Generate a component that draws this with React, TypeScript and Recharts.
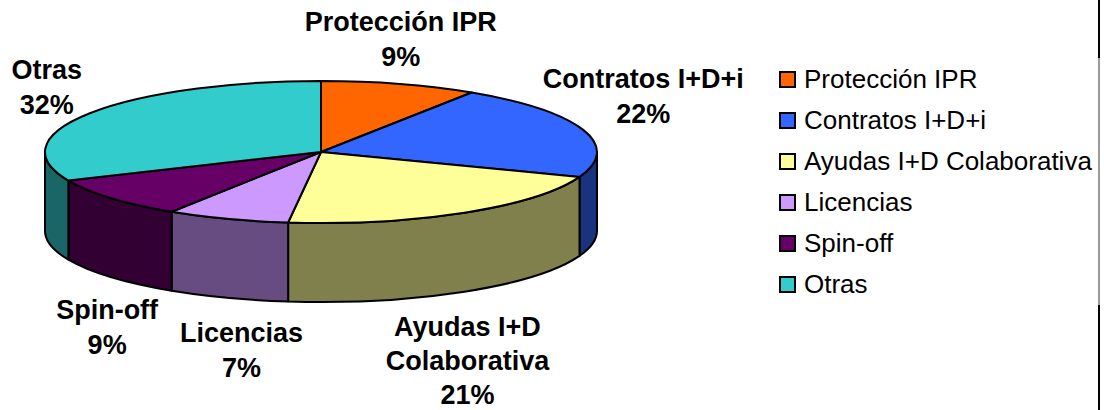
import { Legend, Pie, PieChart } from "recharts";

const categories = ["Protección IPR", "Contratos I+D+i", "Ayudas I+D Colaborativa", "Licencias", "Spin-off", "Otras"];
const shares = [9.2, 21.5, 21.2, 7.2, 9.3, 31.6];
const topColors = ["#FF6600", "#3366FF", "#FFFF99", "#CC99FF", "#660066", "#33CCCC"];
const wallColors = ["#803300", "#1A337F", "#80804C", "#664C80", "#330033", "#1A6666"];
const labelLines = [["Protección IPR"], ["Contratos I+D+i"], ["Ayudas I+D", "Colaborativa"], ["Licencias"], ["Spin-off"], ["Otras"]];

// first baseline of each label, relative to the rim point of its slice
const labelOffsets = [
  [1, -53],
  [60, -42],
  [3, 123],
  [14, 123],
  [-4, 121],
  [-43, -34],
];

const FONT = '"Liberation Sans", Arial, sans-serif';
const RX = 276;
const RY = 71;
const DEPTH = 79;
const LINE_HEIGHT = 34;

const chartData = categories.map((name, i) => ({ name, value: shares[i], fill: topColors[i] }));

// recharts angles run counter-clockwise from 3 o'clock, squashed here onto the tilted disc
const rimPoint = (cx: number, cy: number, angle: number) => {
  const rad = (angle * Math.PI) / 180;
  return { x: cx + RX * Math.cos(rad), y: cy - RY * Math.sin(rad) };
};

const arcTo = (to: { x: number; y: number }, clockwise: boolean, large: boolean) =>
  `A ${RX} ${RY} 0 ${large ? 1 : 0} ${clockwise ? 1 : 0} ${to.x} ${to.y}`;

function TiltedSlice(props: any) {
  const { cx, cy, startAngle, endAngle, index } = props;
  const a = rimPoint(cx, cy, startAngle);
  const b = rimPoint(cx, cy, endAngle);
  const large = startAngle - endAngle > 180;

  // only the front half of the rim has a visible wall (0 to -180 going clockwise)
  const wallA = Math.min(startAngle, 0);
  const wallB = Math.max(endAngle, -180);
  const p = rimPoint(cx, cy, wallA);
  const q = rimPoint(cx, cy, wallB);

  return (
    <g>
      {wallA > wallB && (
        <path
          d={`M ${p.x} ${p.y} ${arcTo(q, true, false)} L ${q.x} ${q.y + DEPTH} ${arcTo({ x: p.x, y: p.y + DEPTH }, false, false)} Z`}
          fill={wallColors[index]}
          stroke="#000"
          strokeWidth={2}
          strokeLinejoin="round"
        />
      )}
      <path
        d={`M ${cx} ${cy} L ${a.x} ${a.y} ${arcTo(b, true, large)} Z`}
        fill={topColors[index]}
        stroke="#000"
        strokeWidth={2}
        strokeLinejoin="round"
      />
    </g>
  );
}

function SliceLabel(props: any) {
  const { cx, cy, midAngle, index } = props;
  const rim = rimPoint(cx, cy, midAngle);
  const x = rim.x + labelOffsets[index][0];
  const y = rim.y + labelOffsets[index][1];
  const lines = [...labelLines[index], `${Math.round(shares[index])}%`];
  return (
    <text x={x} y={y} textAnchor="middle" fontFamily={FONT} fontSize={27} fontWeight={700} fill="#000">
      {lines.map((line, i) => (
        <tspan key={line} x={x} y={y + i * LINE_HEIGHT + (lines.length === 2 ? i : 0)}>
          {line}
        </tspan>
      ))}
    </text>
  );
}

function LegendRows() {
  return (
    <div style={{ fontFamily: FONT, fontSize: 26, color: "#000" }}>
      {categories.map((name, i) => (
        <div key={name} style={{ display: "flex", alignItems: "center", height: 41, whiteSpace: "nowrap" }}>
          <span
            style={{
              width: 13,
              height: 13,
              border: "2px solid #000",
              background: topColors[i],
              marginRight: 8,
              flex: "none",
            }}
          />
          {name}
        </div>
      ))}
    </div>
  );
}

export default function App() {
  return (
    <div style={{ position: "absolute", left: 0, top: 0, width: 1104, height: 410, background: "#fff", overflow: "hidden" }}>
      <PieChart width={1104} height={410} margin={{ top: 0, right: 0, bottom: 0, left: 0 }}>
        <Pie
          data={chartData}
          dataKey="value"
          nameKey="name"
          cx={321}
          cy={152}
          outerRadius={RX}
          startAngle={90}
          endAngle={-270}
          paddingAngle={0}
          shape={TiltedSlice}
          label={SliceLabel}
          labelLine={false}
          isAnimationActive={false}
          rootTabIndex={-1}
        />
        <Legend content={LegendRows} layout="vertical" wrapperStyle={{ position: "absolute", left: 779, top: 59, width: 320, height: 246 }} />
      </PieChart>
      <div style={{ position: "absolute", left: 1098, top: 0, width: 2, height: 410, background: "#000" }} />
      <div style={{ position: "absolute", left: 1098, top: 58, width: 2, height: 247, background: "#9a9a9a" }} />
    </div>
  );
}
